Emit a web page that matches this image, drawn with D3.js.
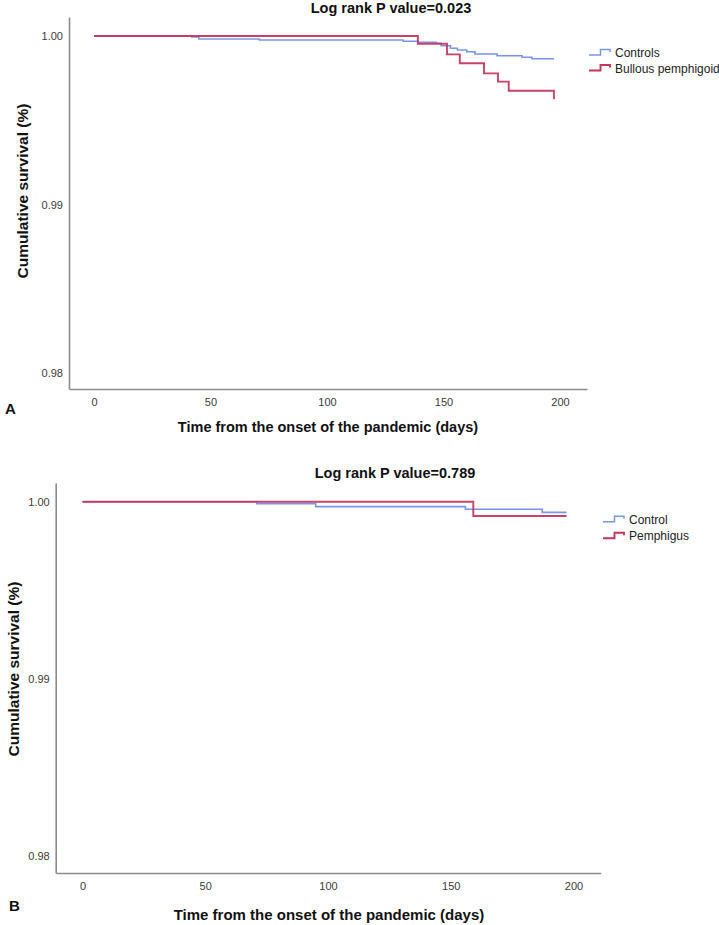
<!DOCTYPE html>
<html>
<head>
<meta charset="utf-8">
<script src="https://cdn.jsdelivr.net/npm/d3@7"></script>
<style>
  html, body { margin: 0; padding: 0; background: #fff; }
  svg { display: block; font-family: "Liberation Sans", Arial, sans-serif; }
</style>
</head>
<body>
<svg id="chart" width="719" height="925"></svg>
<script>
// ---- Data ----
const xTicks = [0, 50, 100, 150, 200];
const yTicks = [0.98, 0.99, 1.00];

// Panel A
const titleA = "Log rank P value=0.023";
const controlsA_days = [0, 42, 45, 71, 132.6, 139, 147, 149, 153, 156, 160, 163.5, 173, 183.7, 188, 197.4];
const controlsA_surv = [1.0, 0.99994, 0.99982, 0.99976, 0.99969, 0.99963, 0.99957, 0.99942, 0.99927, 0.99917, 0.99907, 0.99893, 0.99883, 0.99874, 0.99865, 0.99865];
const bpA_days = [0, 139, 151.5, 157, 167.4, 173.4, 178, 197.4, 197.4];
const bpA_surv = [1.0, 0.99954, 0.99891, 0.99838, 0.99778, 0.99729, 0.99675, 0.99675, 0.99624];
const legendA = ["Controls", "Bullous pemphigoid"];

// Panel B
const titleB = "Log rank P value=0.789";
const controlB_days = [0, 71, 95, 156, 187.3, 197.2];
const controlB_surv = [1.0, 0.99989, 0.99972, 0.99957, 0.99940, 0.99940];
const pemB_days = [0, 159.2, 197.2];
const pemB_surv = [1.0, 0.99919, 0.99919];
const legendB = ["Control", "Pemphigus"];

const xLabel = "Time from the onset of the pandemic (days)";
const yLabel = "Cumulative survival (%)";

const BLUE = "#7896e6";
const RED = "#c3335b";

const svg = d3.select("#chart");

function panel(cfg) {
  const g = svg.append("g");
  const x = d3.scaleLinear().domain(cfg.xDomain).range(cfg.xRange);
  const y = d3.scaleLinear().domain(cfg.yDomain).range(cfg.yRange);

  // axes
  const ax = g.append("g").attr("transform", `translate(0,${cfg.yRange[0]})`)
    .call(d3.axisBottom(x).tickValues(xTicks).tickSize(0).tickPadding(cfg.xTickPad).tickFormat(d3.format("d")));
  const ay = g.append("g").attr("transform", `translate(${cfg.xRange[0]},0)`)
    .call(d3.axisLeft(y).tickValues(yTicks).tickSize(0).tickPadding(cfg.yTickPad).tickFormat(d3.format(".2f")));
  [ax, ay].forEach(a => {
    a.select(".domain").attr("stroke", "#8c8c8c").attr("stroke-width", 1.6);
    a.selectAll("text").attr("font-size", 11).attr("fill", "#3a3a3a").attr("font-family", "Liberation Sans, Arial, sans-serif");
  });

  const line = d3.line().x(d => x(d[0])).y(d => y(d[1])).curve(d3.curveStepAfter);
  const s1 = cfg.d1.map((d, i) => [d, cfg.s1[i]]);
  const s2 = cfg.d2.map((d, i) => [d, cfg.s2[i]]);
  g.append("path").datum(s1).attr("d", line).attr("fill", "none").attr("stroke", BLUE).attr("stroke-width", 1.6);
  g.append("path").datum(s2).attr("d", line).attr("fill", "none").attr("stroke", RED).attr("stroke-width", 1.9).attr("stroke-opacity", 0.92);

  // title
  g.append("text").attr("x", cfg.titleX).attr("y", cfg.titleY).attr("text-anchor", "middle")
    .attr("font-size", 14.5).attr("font-weight", "bold").attr("fill", "#111").text(cfg.title);
  // x label
  g.append("text").attr("x", cfg.xLabX).attr("y", cfg.xLabY).attr("text-anchor", "middle")
    .attr("font-size", cfg.labSize).attr("font-weight", "bold").attr("fill", "#111").text(xLabel);
  // y label
  g.append("text").attr("transform", `translate(${cfg.yLabX},${cfg.yLabY}) rotate(-90)`).attr("text-anchor", "middle")
    .attr("font-size", cfg.yLabSize).attr("font-weight", "bold").attr("fill", "#111").text(yLabel);
  // panel letter
  g.append("text").attr("x", cfg.letterX).attr("y", cfg.letterY).attr("font-size", 15).attr("font-weight", "bold")
    .attr("fill", "#111").text(cfg.letter);

  // legend
  const cols = [BLUE, RED];
  cfg.legend.forEach((name, i) => {
    const lx = cfg.legX, ly = cfg.legY + i * cfg.legGap;
    g.append("path")
      .attr("d", `M${lx},${ly} H${lx + 11.5} V${ly - 5.5} H${lx + 21} V${ly - 3}`)
      .attr("fill", "none").attr("stroke", cols[i]).attr("stroke-width", i ? 1.9 : 1.5);
    g.append("text").attr("x", lx + 26).attr("y", ly + 2).attr("font-size", 12).attr("fill", "#222").text(name);
  });
}

panel({
  xDomain: [-10.73, 211.6], xRange: [69, 587],
  yDomain: [0.97905, 1.001128], yRange: [389, 17],
  xTickPad: 9, yTickPad: 6,
  d1: controlsA_days, s1: controlsA_surv, d2: bpA_days, s2: bpA_surv,
  title: titleA, titleX: 391, titleY: 13,
  xLabX: 328, xLabY: 432, yLabX: 28, yLabY: 191, labSize: 14.5, yLabSize: 15.5,
  letter: "A", letterX: 5, letterY: 414,
  legend: legendA, legX: 589, legY: 55, legGap: 15.5
});

panel({
  xDomain: [-10.9, 211.1], xRange: [55.7, 600.7],
  yDomain: [0.97904, 1.001056], yRange: [873, 483],
  xTickPad: 9, yTickPad: 6,
  d1: controlB_days, s1: controlB_surv, d2: pemB_days, s2: pemB_surv,
  title: titleB, titleX: 395, titleY: 478,
  xLabX: 329, xLabY: 920, yLabX: 19, yLabY: 669, labSize: 15, yLabSize: 15.5,
  letter: "B", letterX: 9, letterY: 911,
  legend: legendB, legX: 603, legY: 521.7, legGap: 16.6
});
</script>
</body>
</html>
